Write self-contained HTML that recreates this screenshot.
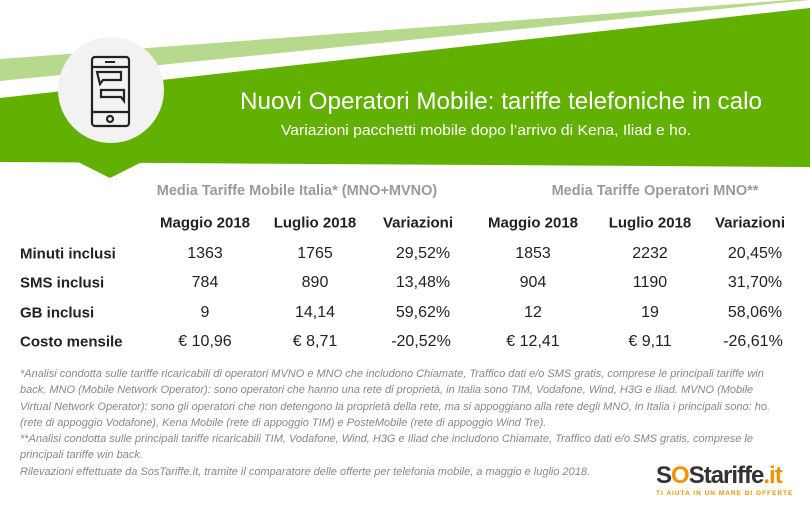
<!DOCTYPE html>
<html><head><meta charset="utf-8"><style>
body{margin:0;width:810px;height:510px;overflow:hidden;background:#fff;font-family:"Liberation Sans",sans-serif;position:relative}
.t{position:absolute;white-space:nowrap;transform:translate(-50%,-50%);font-size:16px;color:#222}
.h{font-weight:bold;font-size:15px}
.g{color:#9a9a9a;font-weight:bold;font-size:14.5px}
.l{position:absolute;white-space:nowrap;transform:translateY(-50%);font-weight:bold;font-size:15px;color:#222;left:20px}
.fn{position:absolute;left:20px;top:366px;white-space:nowrap;font-size:11px;line-height:16.3px;font-style:italic;color:#888}
</style></head><body>
<svg width="810" height="180" style="position:absolute;left:0;top:0">
<polygon points="0,59 790,0 810,0 0,81" fill="#b6d98d"/>
<polygon points="0,98 810,8 810,167 0,162" fill="#62b001"/>
<polygon points="78,162 142,162 110,178" fill="#62b001"/>
<circle cx="111" cy="90" r="53" fill="#f2f2f2"/>
<g fill="none" stroke="#222" stroke-width="2.2">
<rect x="92" y="57" width="37" height="69" rx="3"/>
<line x1="92" y1="67" x2="129" y2="67"/><line x1="92" y1="112" x2="129" y2="112"/>
<circle cx="110" cy="119" r="3"/>
<path d="M97 72h24v8h-18l-3 4z"/><path d="M101 90h23v11l-3-4h-20z"/>
</g>
<line x1="105" y1="62" x2="115" y2="62" stroke="#222" stroke-width="2"/>
<text x="240" y="109" font-family="Liberation Sans" font-size="24" fill="#fff" textLength="522" lengthAdjust="spacingAndGlyphs">Nuovi Operatori Mobile: tariffe telefoniche in calo</text>
<text x="281" y="135" font-family="Liberation Sans" font-size="15" fill="#fff" textLength="410" lengthAdjust="spacingAndGlyphs">Variazioni pacchetti mobile dopo l’arrivo di Kena, Iliad e ho.</text>
</svg>
<div class="t g" style="left:297px;top:191px">Media Tariffe Mobile Italia* (MNO+MVNO)</div>
<div class="t g" style="left:655px;top:191px">Media Tariffe Operatori MNO**</div>
<div class="t h" style="left:205px;top:223px">Maggio 2018</div>
<div class="t h" style="left:315px;top:223px">Luglio 2018</div>
<div class="t h" style="left:418px;top:223px">Variazioni</div>
<div class="t h" style="left:533px;top:223px">Maggio 2018</div>
<div class="t h" style="left:650px;top:223px">Luglio 2018</div>
<div class="t h" style="left:750px;top:223px">Variazioni</div>
<div class="l" style="top:254px">Minuti inclusi</div>
<div class="l" style="top:283px">SMS inclusi</div>
<div class="l" style="top:313px">GB inclusi</div>
<div class="l" style="top:342px">Costo mensile</div>
<div class="t" style="left:205px;top:254px">1363</div><div class="t" style="left:315px;top:254px">1765</div><div class="t" style="left:423px;top:254px">29,52%</div>
<div class="t" style="left:533px;top:254px">1853</div><div class="t" style="left:650px;top:254px">2232</div><div class="t" style="left:755px;top:254px">20,45%</div>
<div class="t" style="left:205px;top:283px">784</div><div class="t" style="left:315px;top:283px">890</div><div class="t" style="left:423px;top:283px">13,48%</div>
<div class="t" style="left:533px;top:283px">904</div><div class="t" style="left:650px;top:283px">1190</div><div class="t" style="left:755px;top:283px">31,70%</div>
<div class="t" style="left:205px;top:313px">9</div><div class="t" style="left:315px;top:313px">14,14</div><div class="t" style="left:423px;top:313px">59,62%</div>
<div class="t" style="left:533px;top:313px">12</div><div class="t" style="left:650px;top:313px">19</div><div class="t" style="left:755px;top:313px">58,06%</div>
<div class="t" style="left:205px;top:342px">€ 10,96</div><div class="t" style="left:315px;top:342px">€ 8,71</div><div class="t" style="left:421px;top:342px">-20,52%</div>
<div class="t" style="left:533px;top:342px">€ 12,41</div><div class="t" style="left:650px;top:342px">€ 9,11</div><div class="t" style="left:753px;top:342px">-26,61%</div>
<div class="fn">*Analisi condotta sulle tariffe ricaricabili di operatori MVNO e MNO che includono Chiamate, Traffico dati e/o SMS gratis, comprese le principali tariffe win<br>back. MNO (Mobile Network Operator): sono operatori che hanno una rete di proprietà, in Italia sono TIM, Vodafone, Wind, H3G e Iliad. MVNO (Mobile<br>Virtual Network Operator): sono gli operatori che non detengono la proprietà della rete, ma si appoggiano alla rete degli MNO, in Italia i principali sono: ho.<br>(rete di appoggio Vodafone), Kena Mobile (rete di appoggio TIM) e PosteMobile (rete di appoggio Wind Tre).<br>**Analisi condotta sulle principali tariffe ricaricabili TIM, Vodafone, Wind, H3G e Iliad che includono Chiamate, Traffico dati e/o SMS gratis, comprese le<br>principali tariffe win back.<br>Rilevazioni effettuate da SosTariffe.it, tramite il comparatore delle offerte per telefonia mobile, a maggio e luglio 2018.</div>
<div style="position:absolute;left:656px;top:462px;font-weight:bold;font-size:24px;letter-spacing:-1px;color:#333">S<span style="color:#f39200">O</span>S<span style="color:#333">tariffe</span><span style="color:#f39200">.it</span></div>
<div style="position:absolute;left:656px;top:490px;font-weight:bold;font-size:6.5px;letter-spacing:1px;color:#f39200">TI AIUTA IN UN MARE DI OFFERTE</div>
</body></html>
